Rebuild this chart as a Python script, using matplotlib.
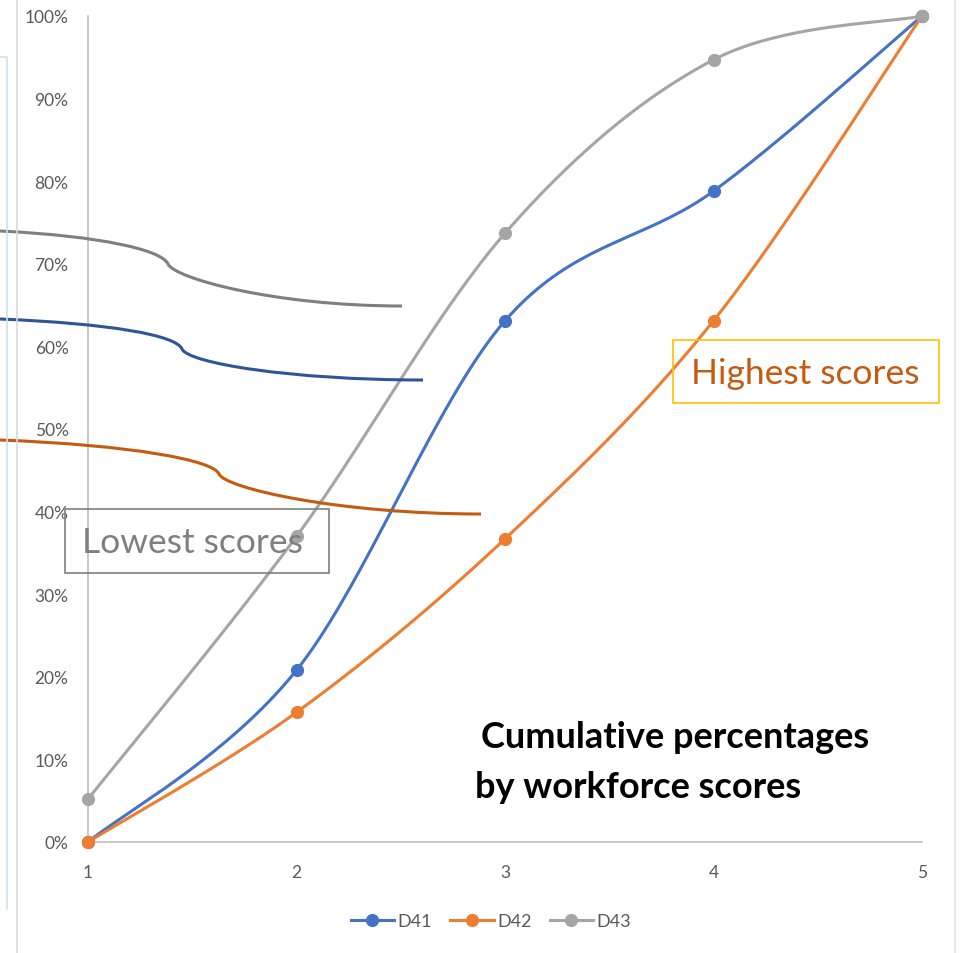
import numpy as np
import matplotlib.pyplot as plt
from matplotlib.path import Path
from matplotlib.patches import PathPatch, Rectangle
from matplotlib.ticker import FuncFormatter

plt.rcParams['font.family'] = ['Lato', 'DejaVu Sans']

scores = [1, 2, 3, 4, 5]
d41 = [0.0, 20.8, 63.1, 78.8, 100.0]
d42 = [0.0, 15.7, 36.7, 63.1, 100.0]
d43 = [5.2, 37.0, 73.7, 94.7, 100.0]
series_names = ['D41', 'D42', 'D43']
series_colors = ['#4472C4', '#ED7D31', '#A5A5A5']


def smooth(xs, ys, n=40):
    # Excel-style smoothed line: cubic bezier with catmull-rom control points
    p = np.column_stack([xs, ys]).astype(float)
    p = np.vstack([p[0], p, p[-1]])
    out = []
    t = np.linspace(0, 1, n)[:, None]
    for i in range(1, len(p) - 2):
        p0, p3 = p[i], p[i + 1]
        c1 = p0 + (p[i + 1] - p[i - 1]) / 6
        c2 = p3 - (p[i + 2] - p[i]) / 6
        seg = ((1 - t) ** 3) * p0 + 3 * ((1 - t) ** 2) * t * c1 + 3 * (1 - t) * t ** 2 * c2 + t ** 3 * p3
        out.append(seg if i == 1 else seg[1:])
    seg = np.vstack(out)
    return seg[:, 0], seg[:, 1]


fig = plt.figure(figsize=(9.61, 9.54), dpi=100)
ax = fig.add_axes([88 / 961, 1 - 843 / 954, 834 / 961, 826 / 954])

for name, vals, col in zip(series_names, [d41, d42, d43], series_colors):
    sx, sy = smooth(scores, vals)
    ax.plot(sx, sy, color=col, lw=2.2, clip_on=False, zorder=3)
    ax.plot(scores, vals, 'o', color=col, ms=8.5, clip_on=False, zorder=4)
    # legend handle
    ax.plot([], [], '-o', color=col, lw=2.2, ms=8.5, label=name)

ax.set_xlim(1, 5)
ax.set_ylim(0, 100)
ax.set_xticks(scores)
ax.set_yticks(range(0, 101, 10))
ax.yaxis.set_major_formatter(FuncFormatter(lambda v, pos: f'{v:.0f}%'))
ax.tick_params(length=0, labelsize=12.5, labelcolor='#595959')
ax.tick_params(axis='y', pad=14)
ax.tick_params(axis='x', pad=16)
for s in ['top', 'right']:
    ax.spines[s].set_visible(False)
for s in ['left', 'bottom']:
    ax.spines[s].set_color('#BFBFBF')
    ax.spines[s].set_linewidth(1.2)

fig.legend(loc='center', bbox_to_anchor=(491 / 961, 1 - 922 / 954), ncol=3, frameon=False,
           fontsize=13, labelcolor='#595959', handlelength=2.4, handletextpad=0.2,
           columnspacing=1.0)

# overlay in pixel coordinates for the slide decorations
ov = fig.add_axes([0, 0, 1, 1], zorder=5)
ov.set_xlim(0, 961)
ov.set_ylim(954, 0)
ov.axis('off')

ov.plot([17, 17], [0, 954], color='#D9D9D9', lw=1.2)
ov.plot([0, 7, 7], [58, 58, 910], color='#C9E2F2', lw=1.2)
ov.plot([955, 955], [0, 954], color='#E3E3E3', lw=1.2)

braces = [
    ((0, 232), (168, 265), (402, 307), '#7F7F7F'),
    ((0, 320), (182, 350), (423, 381), '#2F5597'),
    ((0, 441), (219, 475), (481, 515), '#C55A11'),
]
for (x0, y0), (xk, yk), (x1, y1), col in braces:
    verts = [(x0, y0), (x0 + 0.6 * (xk - x0), y0 + 0.15 * (yk - y0)), (xk - 6, yk - 14), (xk, yk),
             (xk + 6, yk + 14), (xk + 0.45 * (x1 - xk), y1), (x1, y1)]
    codes = [Path.MOVETO] + [Path.CURVE4] * 6
    ov.add_patch(PathPatch(Path(verts, codes), fill=False, edgecolor=col, lw=2.2))

ov.add_patch(Rectangle((65, 510), 264, 64, fill=False, edgecolor='#7F7F7F', lw=1.2))
ov.text(82, 543, 'Lowest scores', fontsize=25.5, color='#7F7F7F', va='center', ha='left')

ov.add_patch(Rectangle((673, 341), 266, 63, fill=False, edgecolor='#FFC000', lw=1.2))
ov.text(691, 374, 'Highest scores', fontsize=25.5, color='#C55A11', va='center', ha='left')

ov.text(481, 738, 'Cumulative percentages', fontsize=26, fontweight='bold', color='black',
        va='center', ha='left')
ov.text(475, 788, 'by workforce scores', fontsize=26, fontweight='bold', color='black',
        va='center', ha='left')

fig.savefig('out.png', dpi=100)
